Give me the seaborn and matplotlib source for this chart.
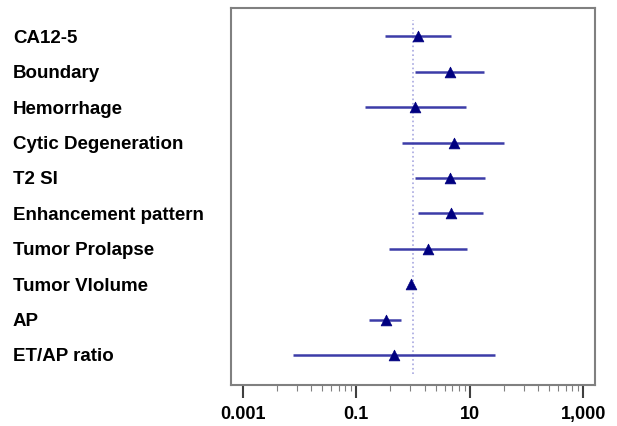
import matplotlib
matplotlib.use("Agg")
import matplotlib.pyplot as plt
import matplotlib.ticker as mticker
import seaborn as sns
import numpy as np
import pandas as pd

sns.set_theme(style="white")
plt.rcParams['font.family'] = ['Liberation Sans', 'DejaVu Sans']

variables = ["CA12-5", "Boundary", "Hemorrhage", "Cytic Degeneration", "T2 SI",
             "Enhancement pattern", "Tumor Prolapse", "Tumor Vlolume", "AP", "ET/AP ratio"]
odds_ratio = [1.22, 4.4, 1.1, 5.2, 4.5, 4.7, 1.85, 0.94, 0.33, 0.47]
ci_low = [0.315, 1.09, 0.14, 0.64, 1.09, 1.22, 0.385, 0.92, 0.171, 0.0077]
ci_high = [4.6, 17.7, 8.5, 40.0, 18.4, 17.4, 8.9, 0.97, 0.62, 27.5]

df = pd.DataFrame({"var": variables, "or": odds_ratio, "lo": ci_low, "hi": ci_high})
df["row"] = np.arange(len(df))

fig = plt.figure(figsize=(6.17, 4.26), dpi=100)
ax = fig.add_axes([231 / 617, 1 - 385 / 426, (595 - 231) / 617, (385 - 8) / 426])

ax.axvline(1, ymin=(9.85 - 9.55) / 10.65, ymax=(9.85 + 0.47) / 10.65,
           color="#a8a8e0", linestyle=":", linewidth=1.2, zorder=1)
ax.hlines(df["row"], df["lo"], df["hi"], color="#3c3ca8", linewidth=1.8, zorder=2)
sns.scatterplot(data=df, x="or", y="row", marker="^", s=60, color="#000080",
                edgecolor="#000080", linewidth=0.5, zorder=3, ax=ax, legend=False)

ax.set_xscale("log")
ax.set_xlim(10 ** -3.206, 10 ** 3.206)
ax.set_ylim(9.85, -0.8)

majors = [0.001, 0.1, 10, 1000]
ax.xaxis.set_major_locator(mticker.FixedLocator(majors))
ax.set_xticklabels(["0.001", "0.1", "10", "1,000"], fontweight="bold", fontsize=13,
                   color="black")
minors = [m * k * k for m in [0.001, 0.1, 10] for k in range(2, 10)]
ax.xaxis.set_minor_locator(mticker.FixedLocator(minors))
ax.xaxis.set_minor_formatter(mticker.NullFormatter())
ax.tick_params(axis="x", which="major", bottom=True, length=9, width=1.5,
               color="#404040", pad=6)
ax.tick_params(axis="x", which="minor", bottom=True, length=4.5, width=0.8,
               color="#808080")

ax.set_yticks(df["row"])
ax.set_yticklabels(df["var"], fontweight="bold", fontsize=13.5, ha="left", color="black")
ax.tick_params(axis="y", length=0, pad=(231 - 13) * 72 / 100)

for s in ax.spines.values():
    s.set_color("#808080")
    s.set_linewidth(1.5)
ax.set_xlabel("")
ax.set_ylabel("")

fig.savefig("out.png", dpi=100)
